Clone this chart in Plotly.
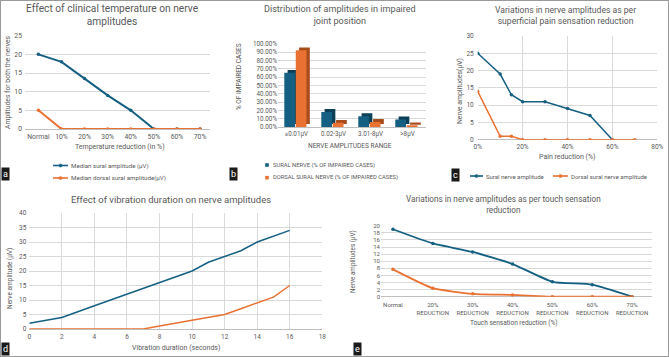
import plotly.graph_objects as go

W, H = 669, 357
def X(p): return p / W
def Y(p): return 1 - p / H

BLUE = "#156082"
ORANGE = "#E97132"
BLUE_D = "#0d3f57"
ORANGE_D = "#a84c1c"
GRID = "#d9d9d9"
AXL = "#bfbfbf"
TXT = "#595959"
FONT = "Roboto"

# ---------------- data ----------------
# (a) clinical temperature
temp_cats = ["Normal", "10%", "20%", "30%", "40%", "50%", "60%", "70%"]
temp_sural = [20, 18, 13.5, 9, 5, 0, 0, 0]
temp_dorsal = [5, 0, 0, 0, 0, 0, 0, 0]
temp_names = ["Median sural amplitude (µV)", "Median dorsal sural amplitude(µV)"]

# (b) impaired joint position
amp_ranges = ["≤0.01µV", "0.02-3µV", "3.01-8µV", ">8µV"]
jp_sural = [65, 18, 13, 9]
jp_dorsal = [92, 5, 6, 2]
jp_names = ["SURAL NERVE (% OF IMPAIRED CASES)", "DORSAL SURAL NERVE (% OF IMPAIRED CASES)"]

# (c) superficial pain reduction
pain_sural_x = [0, 0.10, 0.15, 0.20, 0.30, 0.40, 0.50, 0.60]
pain_sural_y = [25, 19, 13, 11, 11, 9, 7, 0]
pain_dorsal_x = [0, 0.10, 0.15, 0.20, 0.30, 0.40, 0.50, 0.60, 0.70]
pain_dorsal_y = [14, 1, 1, 0, 0, 0, 0, 0, 0]
pain_names = ["Sural nerve amplitude", "Dorsal sural nerve amplitude"]

# (d) vibration duration
vib_sural_x = [0, 2, 4, 6, 8, 10, 11, 12, 13, 14, 15, 16]
vib_sural_y = [2, 4, 8, 12, 16, 20, 23, 25, 27, 30, 32, 34]
vib_dorsal_x = [0, 2, 4, 6, 7, 8, 9, 10, 11, 12, 13, 14, 15, 16]
vib_dorsal_y = [0, 0, 0, 0, 0, 1, 2, 3, 4, 5, 7, 9, 11, 15]

# (e) touch sensation reduction
touch_cats = ["Normal", "20%<br>REDUCTION", "30%<br>REDUCTION", "40%<br>REDUCTION",
              "50%<br>REDUCTION", "60%<br>REDUCTION", "70%<br>REDUCTION"]
touch_sural = [19, 15, 12.6, 9.2, 4.2, 3.4, 0]
touch_dorsal = [7.7, 2.4, 0.8, 0.5, 0, 0, 0]

fig = go.Figure()

# ---- (a)
fig.add_trace(go.Scatter(x=temp_cats, y=temp_sural, mode="lines+markers", name=temp_names[0],
                         line=dict(color=BLUE, width=2), marker=dict(size=3.5),
                         xaxis="x", yaxis="y", showlegend=False))
fig.add_trace(go.Scatter(x=temp_cats, y=temp_dorsal, mode="lines+markers", name=temp_names[1],
                         line=dict(color=ORANGE, width=2), marker=dict(size=3.5),
                         xaxis="x", yaxis="y", showlegend=False))

# ---- (b) pseudo-3D bars: darker depth bar behind the front face
depth_off = 0.09
depth_base = 3.5
fig.add_trace(go.Bar(x=amp_ranges, y=jp_sural, base=depth_base, offset=-0.33 + depth_off, width=0.29,
                     marker=dict(color=BLUE_D, line=dict(width=0)), showlegend=False,
                     xaxis="x2", yaxis="y2", hoverinfo="skip"))
fig.add_trace(go.Bar(x=amp_ranges, y=jp_dorsal, base=depth_base, offset=-0.02 + depth_off, width=0.29,
                     marker=dict(color=ORANGE_D, line=dict(width=0)), showlegend=False,
                     xaxis="x2", yaxis="y2", hoverinfo="skip"))
fig.add_trace(go.Bar(x=amp_ranges, y=jp_sural, offset=-0.33, width=0.29, name=jp_names[0],
                     marker=dict(color=BLUE, line=dict(width=0)), showlegend=False,
                     xaxis="x2", yaxis="y2"))
fig.add_trace(go.Bar(x=amp_ranges, y=jp_dorsal, offset=-0.02, width=0.29, name=jp_names[1],
                     marker=dict(color=ORANGE, line=dict(width=0)), showlegend=False,
                     xaxis="x2", yaxis="y2"))

# ---- (c)
fig.add_trace(go.Scatter(x=pain_sural_x, y=pain_sural_y, mode="lines+markers", name=pain_names[0],
                         line=dict(color=BLUE, width=1.5), marker=dict(size=3.5),
                         xaxis="x3", yaxis="y3", showlegend=False))
fig.add_trace(go.Scatter(x=pain_dorsal_x, y=pain_dorsal_y, mode="lines+markers", name=pain_names[1],
                         line=dict(color=ORANGE, width=1.5), marker=dict(size=3.5),
                         xaxis="x3", yaxis="y3", showlegend=False))

# ---- (d)
fig.add_trace(go.Scatter(x=vib_sural_x, y=vib_sural_y, mode="lines",
                         line=dict(color=BLUE, width=1.5), showlegend=False,
                         xaxis="x4", yaxis="y4"))
fig.add_trace(go.Scatter(x=vib_dorsal_x, y=vib_dorsal_y, mode="lines",
                         line=dict(color=ORANGE, width=1.5), showlegend=False,
                         xaxis="x4", yaxis="y4"))

# ---- (e)
fig.add_trace(go.Scatter(x=touch_cats, y=touch_sural, mode="lines+markers",
                         line=dict(color=BLUE, width=1.8, shape="spline", smoothing=0.5),
                         marker=dict(size=3.5), showlegend=False, xaxis="x5", yaxis="y5"))
fig.add_trace(go.Scatter(x=touch_cats, y=touch_dorsal, mode="lines+markers",
                         line=dict(color=ORANGE, width=1.8, shape="spline", smoothing=0.5),
                         marker=dict(size=3.5), showlegend=False, xaxis="x5", yaxis="y5"))

def tf(s):
    return dict(family=FONT, size=s, color=TXT)

def xax(d0, d1, anchor, ts=6.5, **kw):
    base = dict(domain=[X(d0), X(d1)], anchor=anchor, tickfont=tf(ts), ticks="",
                showline=False, zeroline=False, fixedrange=True, automargin=False)
    base.update(kw)
    return base

def yax(t, b, anchor, ts=6.5, **kw):
    base = dict(domain=[Y(b), Y(t)], anchor=anchor, tickfont=tf(ts), ticks="",
                gridcolor=GRID, gridwidth=0.8, showline=False, zeroline=True,
                zerolinecolor=AXL, zerolinewidth=1, fixedrange=True, automargin=False)
    base.update(kw)
    return base

layout = dict(
    width=W, height=H, margin=dict(l=0, r=0, t=0, b=0, autoexpand=False),
    paper_bgcolor="white", plot_bgcolor="white",
    font=dict(family=FONT, color=TXT),
    barmode="overlay", showlegend=False,
    xaxis=xax(25, 210, "y", ts=6.8, type="category", range=[-0.58, 7.43], showgrid=False,
              ticklabelstandoff=2),
    yaxis=yax(35.7, 129, "x", ts=6.8, range=[0, 25], dtick=5, ticklabelstandoff=2),
    xaxis2=xax(278, 426, "y2", ts=6.3, type="category", range=[-0.5, 3.5], showgrid=False,
               ticklabelstandoff=2),
    yaxis2=yax(43.7, 127, "x2", ts=6.3, range=[0, 100], dtick=10, tickformat=".2f", ticksuffix="%"),
    xaxis3=xax(477.7, 657.3, "y3", ts=6.5, range=[0, 0.8], dtick=0.2, tickformat=".0%",
               showgrid=True, gridcolor=GRID, gridwidth=0.8, ticklabelstandoff=2),
    yaxis3=yax(36, 139.7, "x3", ts=6.5, range=[0, 30], dtick=5, ticklabelstandoff=3),
    xaxis4=xax(29.3, 322.3, "y4", ts=6.5, range=[0, 18], dtick=2, showgrid=True, gridcolor=GRID,
               gridwidth=0.8, ticklabelstandoff=2),
    yaxis4=yax(213, 329, "x4", ts=6.5, range=[0, 40], dtick=5, ticklabelstandoff=2),
    xaxis5=xax(381, 652, "y5", ts=6, type="category", range=[-0.3, 6.5], showgrid=False,
               ticklabelstandoff=3),
    yaxis5=yax(225.7, 296.7, "x5", ts=6, range=[0, 20], dtick=2),
)

ann = []
shapes = []

def title(text, cx, cy, size):
    ann.append(dict(text=text, x=X(cx), y=Y(cy), xref="paper", yref="paper", showarrow=False,
                    xanchor="center", yanchor="middle", font=tf(size)))

def atitle(text, cx, cy, rot=0, size=6.8):
    ann.append(dict(text=text, x=X(cx), y=Y(cy), xref="paper", yref="paper", showarrow=False,
                    xanchor="center", yanchor="middle", textangle=rot, font=tf(size)))

title("Effect of clinical temperature on nerve<br>amplitudes", 112, 15, 10.2)
title("Distribution of amplitudes in impaired<br>joint position", 340, 15.5, 9.1)
title("Variations in nerve amplitudes as per<br>superficial pain sensation reduction", 565, 15.5, 8.6)
title("Effect of vibration duration on nerve amplitudes", 171, 199, 9.5)
title("Variations in nerve amplitudes as per touch sensation<br>reduction", 503, 205, 8.2)

atitle("Amplitudes for both the nerves", 8, 82, -90, 6.8)
atitle("Temperature reduction (in %)", 120, 147, 0, 7)
atitle("% OF IMPAIRED CASES", 239, 77, -90, 6.5)
atitle("NERVE AMPLITUDES RANGE", 350, 146, 0, 6.5)
atitle("Nerve amplitudes(µV)", 460, 91, -90, 6.8)
atitle("Pain reduction (%)", 567, 157, 0, 7)
atitle("Nerve amplitude (µV)", 10, 279, -90, 6.5)
atitle("Vibration duration (seconds)", 176, 348, 0, 7)
atitle("Nerve amplitudes (µV)", 353, 262, -90, 6.3)
atitle("Touch sensation reduction (%)", 513, 323, 0, 6.5)

# ---- legends (drawn as swatches + text)
def leg_line(x0, x1, y, color, text, size=6.2):
    shapes.append(dict(type="line", xref="paper", yref="paper", x0=X(x0), x1=X(x1), y0=Y(y), y1=Y(y),
                       line=dict(color=color, width=1.6)))
    cx = (x0 + x1) / 2
    shapes.append(dict(type="circle", xref="paper", yref="paper", x0=X(cx - 1.6), x1=X(cx + 1.6),
                       y0=Y(y + 1.6), y1=Y(y - 1.6), fillcolor=color, line=dict(color=color, width=0.5)))
    ann.append(dict(text=text, x=X(x1 + 1), y=Y(y), xref="paper", yref="paper", showarrow=False,
                    xanchor="left", yanchor="middle", font=tf(size)))

def leg_box(x, y, color, text, size=5.8):
    shapes.append(dict(type="rect", xref="paper", yref="paper", x0=X(x - 1.8), x1=X(x + 1.8),
                       y0=Y(y + 1.8), y1=Y(y - 1.8), fillcolor=color, line=dict(width=0)))
    ann.append(dict(text=text, x=X(x + 3.5), y=Y(y), xref="paper", yref="paper", showarrow=False,
                    xanchor="left", yanchor="middle", font=tf(size)))

leg_line(53, 68, 165.5, BLUE, temp_names[0])
leg_line(53, 68, 178, ORANGE, temp_names[1])
leg_box(267, 165, BLUE, jp_names[0])
leg_box(267, 177.7, ORANGE, jp_names[1])
leg_line(470, 483, 176, BLUE, pain_names[0], 6)
leg_line(553, 568, 176, ORANGE, pain_names[1], 6)

def plabel(t, x0, y0, anchor="top"):
    ann.append(dict(text=t, x=X(x0), y=Y(y0), xref="paper", yref="paper", showarrow=False,
                    xanchor="left", yanchor=anchor, bgcolor="#1a1a1a", borderpad=1,
                    font=dict(family=FONT, size=9, color="white")))

plabel("a", 1, 167)
plabel("b", 229, 167)
plabel("c", 451, 168)
plabel("d", 1, 356, "bottom")
plabel("e", 353, 356, "bottom")

shapes.append(dict(type="rect", xref="paper", yref="paper", x0=0, y0=0, x1=1, y1=1,
                   line=dict(color="#9a9a9a", width=2)))

layout["annotations"] = ann
layout["shapes"] = shapes

fig.update_layout(**layout)
fig.write_html("out.html", config={"displayModeBar": False},
               post_script="document.body.style.margin='0';document.body.style.padding='0';document.body.style.overflow='hidden';")
